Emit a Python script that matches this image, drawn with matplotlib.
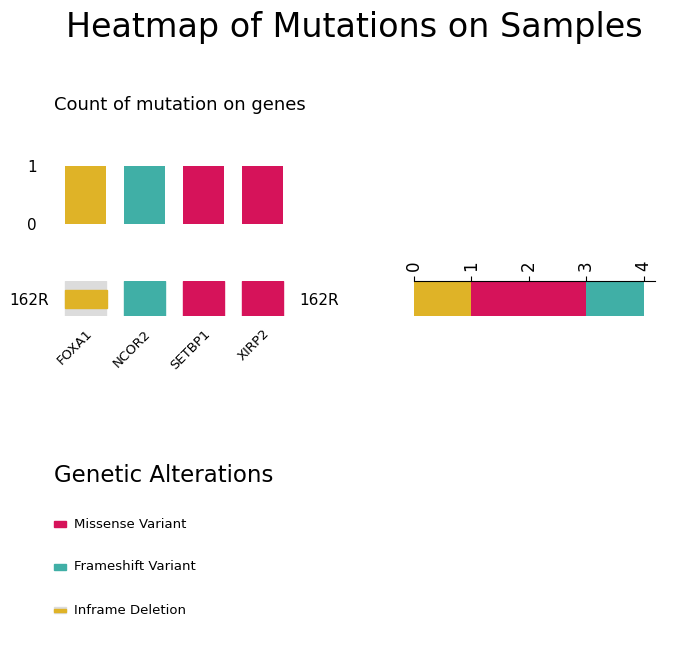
import matplotlib.pyplot as plt
from matplotlib.patches import Rectangle

genes = ["FOXA1", "NCOR2", "SETBP1", "XIRP2"]
gene_counts = [1, 1, 1, 1]
gene_types = ["Inframe Deletion", "Frameshift Variant", "Missense Variant", "Missense Variant"]
sample = "162R"
sample_types = ["Inframe Deletion", "Missense Variant", "Frameshift Variant"]
sample_counts = [1, 2, 1]
legend_types = ["Missense Variant", "Frameshift Variant", "Inframe Deletion"]

colors = {"Missense Variant": "#D6135A", "Frameshift Variant": "#40AFA6",
          "Inframe Deletion": "#DFB327"}
gray = "#DCDCDC"

W, H = 696, 668
fig = plt.figure(figsize=(W / 100, H / 100), dpi=100)

def ax_px(x0, y0, x1, y1):
    return fig.add_axes([x0 / W, 1 - y1 / H, (x1 - x0) / W, (y1 - y0) / H])

fig.text(354 / W, 1 - 28 / H, "Heatmap of Mutations on Samples", ha="center", va="center", fontsize=24)
fig.text(54 / W, 1 - 105 / H, "Count of mutation on genes", ha="left", va="center", fontsize=13)

# top bar
ax1 = ax_px(56, 166, 292, 224)
ax1.bar(range(len(genes)), gene_counts, width=0.7, color=[colors[t] for t in gene_types])
ax1.set_xlim(-0.5, 3.5)
ax1.set_ylim(0, 1)
ax1.set_yticks([0, 1])
ax1.set_xticks([])
ax1.tick_params(axis="y", length=0, labelsize=11, pad=14)
for s in ax1.spines.values():
    s.set_visible(False)

# matrix
ax2 = ax_px(56, 281, 292, 316)
for i, t in enumerate(gene_types):
    if t == "Inframe Deletion":
        ax2.add_patch(Rectangle((i - 0.35, 0), 0.7, 1, color=gray))
        ax2.add_patch(Rectangle((i - 0.35, 0.23), 0.72, 0.52, color=colors[t]))
    else:
        ax2.add_patch(Rectangle((i - 0.35, 0), 0.7, 1, color=colors[t]))
ax2.set_xlim(-0.5, 3.5)
ax2.set_ylim(0, 1)
ax2.set_xticks(range(len(genes)))
ax2.set_xticklabels(genes, rotation=45, ha="right", rotation_mode="anchor", fontsize=9.5)
ax2.set_yticks([0.5])
ax2.set_yticklabels([sample], fontsize=11)
ax2.tick_params(axis="x", length=0, pad=8)
ax2.tick_params(axis="y", length=0, pad=5)
for s in ax2.spines.values():
    s.set_visible(False)
ax2r = ax2.twinx()
ax2r.set_ylim(0, 1)
ax2r.set_yticks([0.5])
ax2r.set_yticklabels([sample], fontsize=11)
ax2r.tick_params(length=0, pad=5)
for s in ax2r.spines.values():
    s.set_visible(False)

# right bar
ax3 = ax_px(414, 281, 655, 316)
left = 0
for t, c in zip(sample_types, sample_counts):
    ax3.barh(0.5, c, left=left, height=1, color=colors[t])
    left += c
ax3.set_xlim(0, 4.2)
ax3.set_ylim(0, 1)
ax3.set_yticks([])
ax3.set_xticks(range(5))
ax3.xaxis.tick_top()
ax3.tick_params(axis="x", labelsize=12, labelrotation=90)
for k in ["bottom", "left", "right"]:
    ax3.spines[k].set_visible(False)

# legend
fig.text(54 / W, 1 - 475 / H, "Genetic Alterations", ha="left", va="center", fontsize=16.5)
for j, t in enumerate(legend_types):
    y = 524 + 43 * j
    if t == "Inframe Deletion":
        fig.patches.append(Rectangle((54 / W, 1 - (y + 3) / H), 12 / W, 6 / H, color=gray, transform=fig.transFigure))
        fig.patches.append(Rectangle((54 / W, 1 - (y + 1.5) / H), 12 / W, 3 / H, color=colors[t], transform=fig.transFigure))
    else:
        fig.patches.append(Rectangle((54 / W, 1 - (y + 3) / H), 12 / W, 6 / H, color=colors[t], transform=fig.transFigure))
    fig.text(74 / W, 1 - y / H, t, ha="left", va="center", fontsize=9.5)

fig.savefig("out.png", dpi=100)
